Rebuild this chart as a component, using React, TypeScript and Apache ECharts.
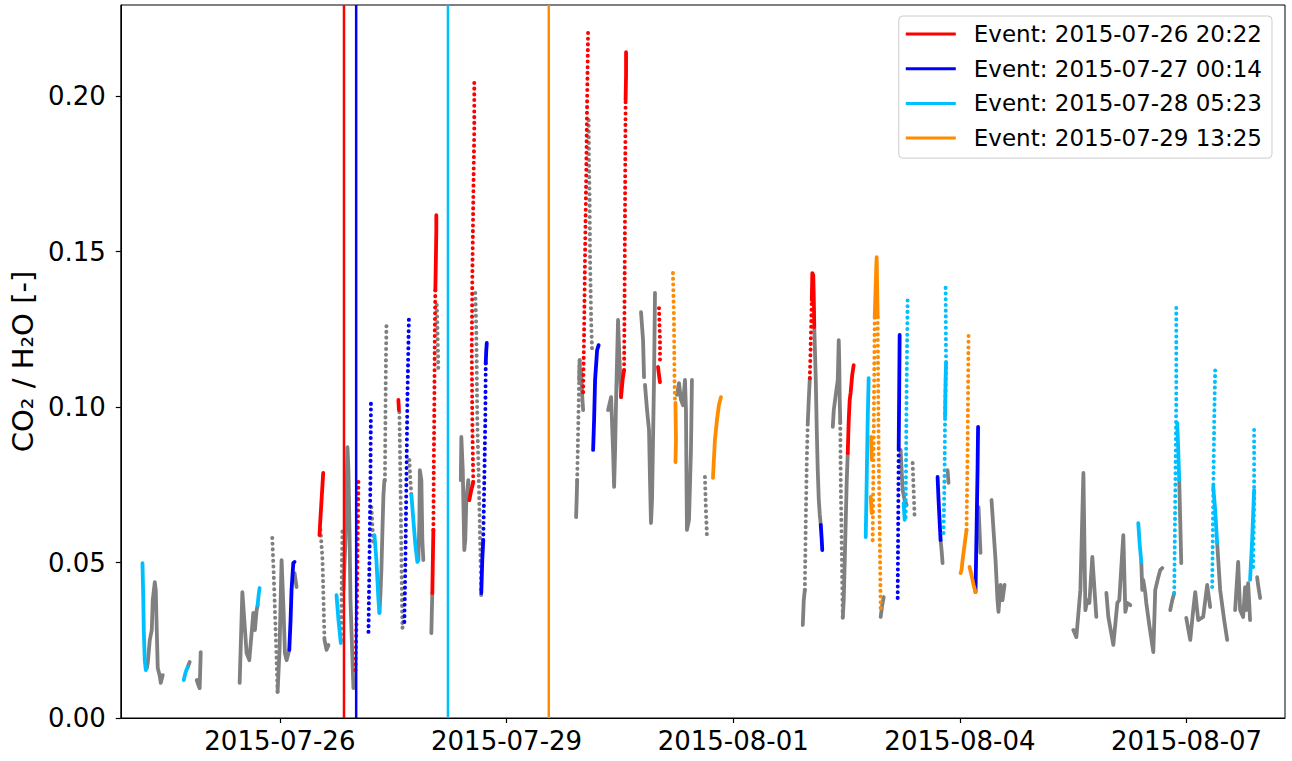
import React, { useEffect, useRef } from "react";
import * as echarts from "echarts";

// x values are days since the logging epoch 2015-07-23 00:32:24 UTC; y values are CO2/H2O ratios.
const EPOCH = "2015-07-23T00:32:24Z";
const xTickLabels = ["2015-07-26", "2015-07-29", "2015-08-01", "2015-08-04", "2015-08-07"];
const yTicks = [0, 0.05, 0.1, 0.15, 0.2];
const eventLabels = ["2015-07-26 20:22", "2015-07-27 00:14", "2015-07-28 05:23", "2015-07-29 13:25"];
const eventColors = ["#ff0000", "#0000ff", "#00bfff", "#ff8c00"];

type P = [number, number];

const grayDense: P[][] = [
  [[1.216,0.0161],[1.229,0.0177],[1.256,0.0251],[1.282,0.0283],[1.295,0.0379],[1.322,0.0437],[1.335,0.0412],[1.348,0.0283],[1.361,0.0161],[1.388,0.0135],[1.401,0.0113],[1.427,0.0138]],
  [[1.758,0.0164],[1.784,0.018]],
  [[1.877,0.0122],[1.903,0.0103],[1.916,0.0096],[1.93,0.0212]],
  [[2.445,0.0113],[2.481,0.0405],[2.537,0.0209],[2.573,0.0186],[2.626,0.0338],[2.647,0.0283],[2.67,0.0347],[2.683,0.0363]],
  [[2.947,0.0084],[2.973,0.0219],[3.0,0.0508],[3.026,0.0347],[3.044,0.0209],[3.066,0.0186],[3.102,0.0219]],
  [[3.172,0.0466],[3.185,0.0444],[3.198,0.0421]],
  [[3.568,0.0251],[3.595,0.0219],[3.621,0.0235]],
  [[3.819,0.0412],[3.846,0.0572],[3.872,0.0871],[3.885,0.0797],[3.899,0.0605],[3.912,0.0379],[3.938,0.0186],[3.951,0.0096],[3.965,0.0122]],
  [[4.295,0.0338],[4.308,0.0395],[4.321,0.0476],[4.335,0.0605],[4.348,0.0717],[4.361,0.0765]],
  [[4.81,0.0508],[4.824,0.0637],[4.83,0.0797],[4.85,0.0765],[4.863,0.0572],[4.876,0.0508]],
  [[4.982,0.0273],[4.989,0.0347],[4.995,0.0402]],
  [[5.372,0.0765],[5.379,0.0904],[5.398,0.0797],[5.418,0.054],[5.431,0.0572],[5.445,0.0701],[5.471,0.0765],[5.484,0.0701]],
  [[6.898,0.0646],[6.905,0.0701],[6.912,0.0765]],
  [[6.938,0.1087],[6.945,0.1151],[6.951,0.1087],[6.964,0.1119],[6.978,0.1039],[6.991,0.099]],
  [[7.321,0.099],[7.361,0.1032],[7.387,0.0862],[7.401,0.0743],[7.414,0.0862],[7.427,0.1023],[7.453,0.128],[7.467,0.1183],[7.493,0.1032]],
  [[7.757,0.1305],[7.784,0.1215],[7.797,0.1096]],
  [[7.81,0.1071],[7.837,0.099],[7.863,0.0926],[7.876,0.0765],[7.889,0.0627],[7.903,0.0701],[7.916,0.0894],[7.929,0.1087],[7.942,0.1367]],
  [[8.233,0.1039],[8.26,0.1077],[8.286,0.1023],[8.312,0.1006],[8.339,0.1087],[8.352,0.099],[8.359,0.0765],[8.365,0.0605],[8.392,0.0637],[8.418,0.0862],[8.431,0.1087]],
  [[9.898,0.0299],[9.911,0.0379],[9.925,0.0412]],
  [[9.964,0.0949],[9.977,0.1023],[9.991,0.1093]],
  [[10.05,0.1257],[10.07,0.1087],[10.083,0.0926],[10.096,0.0797],[10.11,0.0701],[10.123,0.0653],[10.136,0.0621]],
  [[10.295,0.0936],[10.308,0.099],[10.334,0.1039],[10.361,0.1087],[10.374,0.1215],[10.38,0.1151],[10.387,0.1023],[10.394,0.0949]],
  [[10.427,0.0322],[10.44,0.0379],[10.46,0.0572],[10.48,0.0765],[10.493,0.0852]],
  [[10.929,0.0325],[10.949,0.0363],[10.969,0.0389]],
  [[11.193,0.0862],[11.206,0.0797],[11.22,0.0733],[11.246,0.0701],[11.273,0.0685]],
  [[11.722,0.0572],[11.735,0.054],[11.748,0.0498]],
  [[11.814,0.0797],[11.827,0.0756]],
  [[12.224,0.0678],[12.237,0.0605],[12.25,0.0531]],
  [[12.396,0.0701],[12.422,0.0605],[12.449,0.0508],[12.475,0.0379],[12.488,0.0341],[12.515,0.0428],[12.541,0.0379],[12.568,0.0428]],
  [[13.479,0.0283],[13.519,0.026],[13.572,0.0412],[13.612,0.0788],[13.638,0.0347],[13.664,0.0379],[13.691,0.037],[13.73,0.0518],[13.744,0.0466],[13.783,0.0325]],
  [[13.916,0.0402],[13.942,0.0325],[14.008,0.0235],[14.061,0.037],[14.087,0.0379],[14.14,0.0588],[14.167,0.0341],[14.193,0.037],[14.233,0.0363]],
  [[14.378,0.0502],[14.391,0.0412],[14.404,0.0444],[14.431,0.0402],[14.444,0.037],[14.484,0.0299],[14.537,0.0212],[14.563,0.0412],[14.603,0.0453],[14.629,0.0476],[14.656,0.0482]],
  [[14.761,0.0347],[14.788,0.0379],[14.814,0.0402]],
  [[14.88,0.0765],[14.893,0.0637],[14.907,0.0498]],
  [[14.973,0.0322],[15.026,0.0251],[15.065,0.0347],[15.092,0.0405],[15.131,0.0315],[15.197,0.0325],[15.25,0.0428],[15.29,0.0357]],
  [[15.382,0.0563],[15.422,0.0412],[15.475,0.0315],[15.515,0.0251]],
  [[15.62,0.0347],[15.66,0.0502],[15.686,0.0347],[15.726,0.0325],[15.752,0.0421],[15.766,0.0347],[15.792,0.0434],[15.818,0.0315]],
  [[15.911,0.0453],[15.924,0.0428],[15.951,0.0386]],
];

const grayDotted: P[][] = [
  [[2.877,0.0579],[2.894,0.0476],[2.921,0.0283],[2.947,0.0084]],
  [[3.515,0.0605],[3.542,0.0508],[3.555,0.0379],[3.568,0.0251]],
  [[3.786,0.0251],[3.793,0.0379],[3.799,0.0508],[3.806,0.0605]],
  [[4.189,0.0678],[4.216,0.0556]],
  [[4.368,0.0765],[4.374,0.0958],[4.381,0.1151],[4.388,0.1264]],
  [[4.559,0.0984],[4.573,0.0765],[4.586,0.0508],[4.599,0.0289],[4.612,0.0309]],
  [[4.691,0.083],[4.705,0.0765],[4.718,0.0717]],
  [[5.055,0.1328],[5.068,0.1199],[5.075,0.1113]],
  [[5.564,0.1367],[5.577,0.1248],[5.583,0.1119],[5.59,0.0958],[5.603,0.083],[5.616,0.0701],[5.63,0.054],[5.643,0.0379]],
  [[6.912,0.0765],[6.925,0.0926],[6.938,0.1087],[6.945,0.1151]],
  [[7.064,0.1923],[7.07,0.1762],[7.077,0.1666],[7.083,0.1473],[7.097,0.128],[7.11,0.1174]],
  [[8.603,0.0775],[8.616,0.0669],[8.63,0.0582]],
  [[9.925,0.0412],[9.938,0.0637],[9.951,0.083],[9.964,0.0949]],
  [[10.394,0.0949],[10.4,0.0765],[10.414,0.054],[10.427,0.0322]],
  [[11.352,0.082],[11.365,0.0733],[11.378,0.0646]],
];

const redDense: P[][] = [
  [[3.551,0.0788],[3.529,0.0701],[3.509,0.0621],[3.502,0.0588]],
  [[4.546,0.1023],[4.553,0.099]],
  [[4.995,0.0402],[5.002,0.0508],[5.009,0.0605]],
  [[5.035,0.1376],[5.042,0.1473],[5.048,0.1569],[5.048,0.1617]],
  [[5.484,0.0701],[5.511,0.0733],[5.537,0.0759]],
  [[7.493,0.1032],[7.513,0.1087],[7.533,0.1119]],
  [[7.553,0.1987],[7.559,0.2068],[7.559,0.2141]],
  [[7.982,0.1129],[7.995,0.1103],[8.008,0.108]],
  [[10.017,0.1344],[10.024,0.1431],[10.037,0.1424],[10.044,0.1344],[10.05,0.1257]],
  [[10.493,0.0852],[10.506,0.0958],[10.519,0.1023],[10.532,0.1048],[10.552,0.1103],[10.572,0.1135]],
];

const redDotted: P[][] = [
  [[3.978,0.0154],[3.998,0.0379],[4.017,0.0759]],
  [[5.009,0.0605],[5.015,0.083],[5.022,0.1023],[5.028,0.1248],[5.035,0.1376]],
  [[5.537,0.0759],[5.524,0.0958],[5.517,0.1183],[5.524,0.1408],[5.537,0.1666],[5.55,0.1891],[5.55,0.2045]],
  [[6.991,0.1048],[7.004,0.1248],[7.017,0.1505],[7.031,0.173],[7.044,0.1987],[7.057,0.2219]],
  [[7.533,0.1119],[7.539,0.1344],[7.546,0.1666],[7.553,0.1987]],
  [[7.995,0.1318],[8.008,0.1215],[8.008,0.1151]],
  [[9.991,0.1093],[10.004,0.1215],[10.017,0.1344]],
];

const blueDense: P[][] = [
  [[3.102,0.0219],[3.119,0.0315],[3.132,0.0412],[3.155,0.0498],[3.172,0.0502]],
  [[5.643,0.0402],[5.656,0.0508],[5.669,0.0572]],
  [[5.702,0.1141],[5.709,0.1183],[5.716,0.1206]],
  [[7.123,0.0862],[7.136,0.0958],[7.149,0.1087],[7.176,0.1183],[7.196,0.1199]],
  [[10.136,0.0621],[10.149,0.0572],[10.156,0.054]],
  [[11.167,0.0862],[11.173,0.1023],[11.18,0.1232]],
  [[11.682,0.0775],[11.695,0.0701],[11.708,0.0637],[11.722,0.0572]],
  [[12.184,0.0405],[12.198,0.0605],[12.211,0.0797],[12.218,0.0936]],
];

const blueDotted: P[][] = [
  [[4.15,0.0277],[4.163,0.0508],[4.176,0.0765],[4.183,0.1023]],
  [[4.625,0.0309],[4.639,0.0508],[4.652,0.0765],[4.665,0.1023],[4.685,0.1286]],
  [[5.669,0.0572],[5.683,0.0765],[5.696,0.0958],[5.702,0.1141]],
  [[11.154,0.0386],[11.16,0.0605],[11.167,0.0862]],
];

const skyDense: P[][] = [
  [[1.159,0.0498],[1.17,0.0379],[1.176,0.0283],[1.189,0.0186],[1.203,0.0154],[1.216,0.0161]],
  [[1.705,0.0122],[1.731,0.0148],[1.758,0.0164]],
  [[2.683,0.0363],[2.696,0.0395],[2.709,0.0418]],
  [[3.727,0.0395],[3.753,0.0315],[3.784,0.0241]],
  [[4.229,0.0588],[4.255,0.0508],[4.282,0.0379],[4.295,0.0338]],
  [[4.718,0.0717],[4.744,0.0637],[4.771,0.0556],[4.797,0.0502],[4.81,0.0508]],
  [[10.731,0.0582],[10.744,0.0765],[10.757,0.0958],[10.77,0.1093]],
  [[11.233,0.0691],[11.246,0.0637]],
  [[11.781,0.0968],[11.788,0.1087],[11.794,0.1141]],
  [[14.338,0.0627],[14.358,0.0556],[14.378,0.0502]],
  [[14.854,0.0949],[14.867,0.0862],[14.88,0.0765]],
  [[15.33,0.0743],[15.356,0.0669],[15.382,0.0563]],
  [[15.818,0.0444],[15.845,0.0572],[15.871,0.0733]],
];

const skyDotted: P[][] = [
  [[11.259,0.0646],[11.266,0.0862],[11.273,0.1087],[11.286,0.1354]],
  [[11.761,0.0595],[11.775,0.0797],[11.781,0.0968],[11.794,0.1141],[11.788,0.1399]],
  [[14.814,0.0402],[14.827,0.0701],[14.841,0.1023],[14.841,0.1322]],
  [[15.316,0.0421],[15.33,0.0701],[15.343,0.0958],[15.356,0.1119]],
  [[15.858,0.0486],[15.871,0.0701],[15.871,0.0926]],
];

const orangeDense: P[][] = [
  [[8.213,0.1013],[8.22,0.0894],[8.213,0.0823]],
  [[8.709,0.0772],[8.735,0.0894],[8.762,0.0958],[8.788,0.1006],[8.815,0.1032]],
  [[10.803,0.0904],[10.81,0.083]],
  [[10.797,0.0711],[10.81,0.0659]],
  [[10.85,0.1289],[10.869,0.144],[10.876,0.1482],[10.889,0.1289]],
  [[11.986,0.0466],[11.999,0.0476],[12.013,0.0508],[12.039,0.0556],[12.065,0.0605]],
  [[12.105,0.0486],[12.131,0.046],[12.158,0.0428],[12.184,0.0405]],
];

const orangeDotted: P[][] = [
  [[8.18,0.1431],[8.193,0.128],[8.2,0.1087],[8.207,0.1013]],
  [[10.823,0.0572],[10.836,0.0894],[10.85,0.1289]],
  [[10.889,0.1289],[10.902,0.0862],[10.916,0.06],[10.929,0.0347]],
  [[12.065,0.0605],[12.079,0.0862],[12.092,0.1241]],
];

const X_MIN = 0.872;
const X_MAX = 16.28;
const Y_MAX = 0.2293;
const DAY = 86400000;
const epochMs = Date.parse(EPOCH);
const xTickDays = xTickLabels.map((s) => (Date.parse(s + "T00:00:00Z") - epochMs) / DAY);
const eventDays = eventLabels.map((s) => (Date.parse(s.replace(" ", "T") + ":00Z") - epochMs) / DAY);

const FONT = "DejaVu Sans";

function segSeries(groups: P[][], color: string, dotted: boolean, z: number) {
  return groups.map((data) => ({
    type: "line",
    data,
    symbol: "none",
    silent: true,
    z,
    color,
    lineStyle: {
      color,
      width: dotted ? 4 : 3.8,
      type: dotted ? [0.1, 5.6] : "solid",
      cap: "round",
      join: "round",
    },
  }));
}

export default function App() {
  const ref = useRef<HTMLDivElement>(null);
  useEffect(() => {
    if (!ref.current) return;
    const chart = echarts.init(ref.current, null, { renderer: "svg" });
    const eventSeries = eventLabels.map((lab, i) => ({
      type: "line",
      name: "Event: " + lab,
      data: [[eventDays[i], 0], [eventDays[i], Y_MAX]],
      symbol: "none",
      silent: true,
      z: 5,
      color: eventColors[i],
      lineStyle: { color: eventColors[i], width: 2.5 },
    }));
    const series: any[] = [
      ...segSeries(grayDotted, "#808080", true, 2),
      ...segSeries(grayDense, "#808080", false, 2),
      ...segSeries(redDotted, "#ff0000", true, 3),
      ...segSeries(redDense, "#ff0000", false, 3),
      ...segSeries(blueDotted, "#0000ff", true, 3),
      ...segSeries(blueDense, "#0000ff", false, 3),
      ...segSeries(skyDotted, "#00bfff", true, 3),
      ...segSeries(skyDense, "#00bfff", false, 3),
      ...segSeries(orangeDotted, "#ff8c00", true, 3),
      ...segSeries(orangeDense, "#ff8c00", false, 3),
      ...eventSeries,
    ];
    chart.setOption({
      animation: false,
      grid: { left: 119, right: 7, top: 5, bottom: 43, show: true, borderColor: "#000", borderWidth: 1, containLabel: false },
      legend: {
        data: eventLabels.map((l) => "Event: " + l),
        orient: "vertical",
        right: 20,
        top: 16,
        icon: "rect",
        itemWidth: 50,
        itemHeight: 3,
        itemGap: 10.7,
        padding: [6, 10, 8, 7],
        backgroundColor: "rgba(255,255,255,0.85)",
        borderColor: "#cccccc",
        borderWidth: 1,
        borderRadius: 4,
        selectedMode: false,
        textStyle: { fontFamily: FONT, fontSize: 23, lineHeight: 24, color: "#000", padding: [0, 0, 0, 13] },
      },
      xAxis: {
        type: "value",
        min: X_MIN,
        max: X_MAX,
        splitLine: { show: false },
        axisLine: { show: true, lineStyle: { color: "#000", width: 1 } },
        axisTick: { show: true, customValues: xTickDays, length: 5, lineStyle: { color: "#000", width: 1.2 } },
        axisLabel: {
          customValues: xTickDays,
          margin: 10,
          fontFamily: FONT,
          fontSize: 26,
          color: "#000",
          formatter: (v: number) => new Date(epochMs + Math.round(v * DAY)).toISOString().slice(0, 10),
        },
      },
      yAxis: {
        type: "value",
        min: 0,
        max: Y_MAX,
        name: "CO\u2082 / H\u2082O [-]",
        nameLocation: "middle",
        nameGap: 80,
        nameTextStyle: { fontFamily: FONT, fontSize: 29, color: "#000" },
        splitLine: { show: false },
        axisLine: { show: true, lineStyle: { color: "#000", width: 1 } },
        axisTick: { show: true, customValues: yTicks, length: 5, lineStyle: { color: "#000", width: 1.2 } },
        axisLabel: {
          customValues: yTicks,
          margin: 15,
          fontFamily: FONT,
          fontSize: 26,
          color: "#000",
          formatter: (v: number) => v.toFixed(2),
        },
      },
      series,
    });
    return () => chart.dispose();
  }, []);
  return <div ref={ref} style={{ width: 1292, height: 761, position: "absolute", left: 0, top: 0 }} />;
}
